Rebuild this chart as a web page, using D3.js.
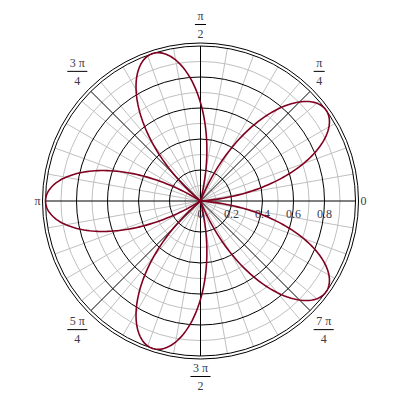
<!DOCTYPE html>
<html>
<head>
<meta charset="utf-8">
<script src="https://cdn.jsdelivr.net/npm/d3@7"></script>
<style>
  body { margin: 0; background: #fff; }
  text { font-family: "Liberation Serif", "DejaVu Serif", serif; font-size: 12px; fill: #3a3a4a; }
</style>
</head>
<body>
<script>
// chart data
const radialTicks = [0, 0.2, 0.4, 0.6, 0.8];
const majorRings = [0.2, 0.4, 0.6, 0.8, 1];
const minorRings = [0.1, 0.3, 0.5, 0.7, 0.9];
const angleTicks = [0, 45, 90, 135, 180, 225, 270, 315];
const angleNum = ["0", "π", "π", "3 π", "π", "5 π", "3 π", "7 π"];
const angleDen = [null, "4", "2", "4", null, "4", "2", "4"];
const minorSpokes = d3.range(0, 360, 10).filter(a => a % 45 !== 0);
// five petals: tip angle (deg), length, and half-width where the petal meets the origin (deg)
const petalAngles = [36, 108, 180, 252, 324];
const petalLength = [1, 1, 1, 1, 1];
const petalHalfWidth = [32, 32, 32, 32, 32];

const width = 400, height = 400,
      cx = 200.5, cy = 201,
      svg = d3.select("body").append("svg")
              .attr("width", width)
              .attr("height", height),
      r = d3.scaleLinear().domain([0, 1]).range([0, 155]),
      rad = d => d * Math.PI / 180,
      px = (rr, a) => cx + r(rr) * Math.cos(rad(a)),
      py = (rr, a) => cy - r(rr) * Math.sin(rad(a));

const grid = svg.append("g").attr("fill", "none");

// gray grid
grid.selectAll(".minorRing").data(minorRings).enter().append("circle")
    .attr("cx", cx).attr("cy", cy).attr("r", d => r(d))
    .attr("stroke", "#c0c0c0");
grid.selectAll(".minorSpoke").data(minorSpokes).enter().append("line")
    .attr("x1", cx).attr("y1", cy)
    .attr("x2", d => px(1, d)).attr("y2", d => py(1, d))
    .attr("stroke", "#c0c0c0");

// black grid
grid.selectAll(".majorRing").data(majorRings).enter().append("circle")
    .attr("cx", cx).attr("cy", cy).attr("r", d => r(d))
    .attr("stroke", "#000");
grid.append("circle")
    .attr("cx", cx).attr("cy", cy).attr("r", r(1) + 3)
    .attr("stroke", "#000");
grid.selectAll(".majorSpoke").data(angleTicks).enter().append("line")
    .attr("x1", cx).attr("y1", cy)
    .attr("x2", d => px(1, d)).attr("y2", d => py(1, d))
    .attr("stroke", "#000");

// radial tick labels
svg.selectAll(".rlabel").data(radialTicks).enter().append("text")
    .attr("x", d => cx + r(d))
    .attr("y", cy + 17)
    .attr("text-anchor", "middle")
    .text(d => d);

// petals
const line = d3.line();
svg.selectAll(".petal").data(petalAngles).enter().append("path")
   .attr("d", (a, i) => {
     const hw = petalHalfWidth[i];
     return line(d3.range(-hw, hw + 0.5, 0.5).map(p => {
       const rr = petalLength[i] * Math.cos(rad(90 * p / hw));
       return [px(rr, a + p), py(rr, a + p)];
     }));
   })
   .attr("fill", "none")
   .attr("stroke", "#800020")
   .attr("stroke-width", 1.6);

// angle labels
angleTicks.forEach((a, i) => {
  const g = svg.append("g");
  if (angleDen[i]) {
    const num = g.append("text").attr("text-anchor", "middle").attr("y", -4).text(angleNum[i]);
    const den = g.append("text").attr("text-anchor", "middle").attr("y", 14).text(angleDen[i]);
    const w = Math.max(num.node().getBBox().width, den.node().getBBox().width) + 5;
    g.append("line").attr("x1", -w / 2).attr("x2", w / 2).attr("y1", 0.5).attr("y2", 0.5)
     .attr("stroke", "#000");
  } else {
    g.append("text").attr("text-anchor", "middle").attr("dy", "0.35em").text(angleNum[i]);
  }
  const b = g.node().getBBox(),
        c = Math.cos(rad(a)), s = Math.sin(rad(a)),
        ax = c > 0.1 ? b.x : c < -0.1 ? b.x + b.width : b.x + b.width / 2,
        ay = s > 0.1 ? b.y + b.height : s < -0.1 ? b.y : b.y + b.height / 2,
        tx = px(0, a) + 160 * c, ty = cy - 160 * s;
  g.attr("transform", "translate(" + (tx - ax) + "," + (ty - ay) + ")");
});
</script>
</body>
</html>
